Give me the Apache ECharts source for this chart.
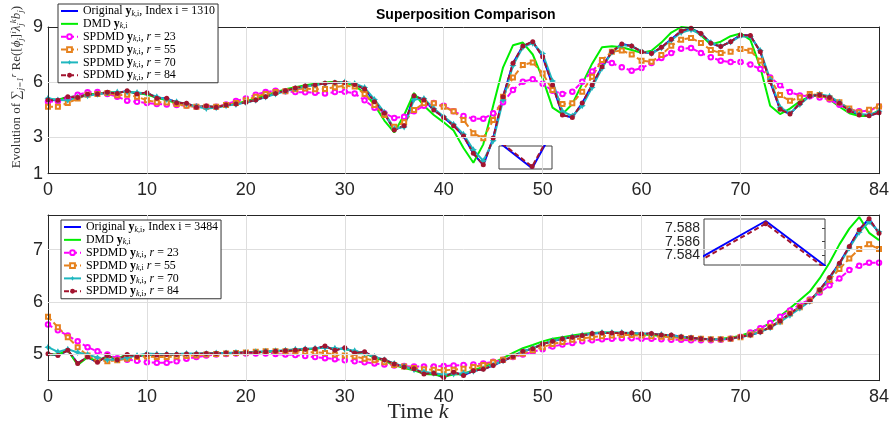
<!DOCTYPE html>
<html><head><meta charset="utf-8">
<script src="https://cdn.jsdelivr.net/npm/echarts@6/dist/echarts.min.js"></script>
<style>html,body{margin:0;padding:0;background:#fff}#c{width:892px;height:426px}</style>
</head><body><div id="c"></div>
<script>
// ---------- tick labels ----------
const xTicks = [0,10,20,30,40,50,60,70,84];
const topYTicks = [1,3,6,9];
const botYTicks = [5,6,7];
const insetYTicks = [7.584,7.586,7.588];

// ---------- top panel (index i = 1310) ----------
const topOriginal = [5.02,5.00,5.20,5.15,5.33,5.35,5.44,5.38,5.53,5.35, 5.42,5.11,5.11,4.87,4.84,4.62,4.69,4.62,4.75,4.80, 4.89,5.02,5.20,5.38,5.53,5.68,5.78,5.85,5.93,5.98, 5.98,5.87,5.62,4.93,4.29,3.38,3.62,5.25,5.02,4.47, 4.07,3.62,3.05,2.10,1.47,2.93,5.20,7.02,7.96,8.20, 7.38,5.84,4.20,4.07,4.85,5.84,6.83,7.65,8.07,7.96, 7.65,7.56,7.89,8.33,8.78,8.93,8.65,8.11,7.93,8.20, 8.56,8.53,7.65,6.02,4.51,4.25,4.84,5.24,5.29,5.16, 4.84,4.44,4.20,4.16,4.33];
const topDMD = [5.05,5.05,5.15,5.25,5.30,5.38,5.42,5.45,5.45,5.42, 5.30,5.15,5.00,4.85,4.75,4.68,4.65,4.66,4.72,4.82, 4.95,5.10,5.28,5.45,5.60,5.72,5.82,5.90,5.97,6.02, 5.98,5.80,5.40,4.75,3.90,3.25,4.20,5.40,4.70,4.20, 3.80,3.35,2.40,1.60,2.60,4.70,6.80,8.00,8.15,7.50, 6.20,4.60,4.25,4.80,5.90,7.00,7.90,7.95,7.90,7.75, 7.60,7.70,8.15,8.70,9.00,8.95,8.55,8.05,8.20,8.50, 8.65,8.30,6.80,4.70,4.25,4.55,4.95,5.20,5.30,5.05, 4.65,4.30,4.15,4.15,4.45];
const topR23 = [4.93,4.95,5.10,5.30,5.44,5.45,5.35,5.20,4.98,4.92, 4.85,4.80,4.78,4.75,4.72,4.65,4.65,4.65,4.78,4.97, 5.10,5.31,5.45,5.53,5.50,5.45,5.44,5.42,5.38,5.45, 5.47,5.38,5.00,4.60,4.30,4.04,4.10,4.40,4.70,4.85, 4.70,4.40,4.15,4.00,4.00,4.29,4.90,5.56,6.02,6.15, 5.90,5.52,5.35,5.47,6.02,6.58,7.16,7.03,6.80,6.62, 6.76,7.03,7.31,7.58,7.82,7.85,7.58,7.35,7.16,7.09, 7.09,6.95,6.71,6.25,5.82,5.45,5.27,5.22,5.16,5.04, 4.76,4.49,4.40,4.44,4.67];
const topR55 = [4.65,4.65,4.86,5.10,5.30,5.35,5.40,5.28,5.30,5.20, 5.00,4.90,4.88,4.80,4.70,4.65,4.65,4.65,4.75,4.85, 5.00,5.20,5.35,5.45,5.50,5.60,5.65,5.60,5.62,5.72, 5.80,5.75,5.35,4.75,4.20,3.56,3.80,4.47,4.84,4.84, 4.65,4.40,3.93,3.20,2.93,3.93,5.20,6.25,6.93,7.07, 6.47,5.56,4.80,4.84,5.47,6.29,7.20,7.65,7.72,7.50, 7.16,7.11,7.47,7.98,8.31,8.40,8.13,7.75,7.58,7.65, 7.80,7.70,7.16,6.16,5.29,4.98,5.16,5.34,5.29,5.11, 4.89,4.56,4.35,4.49,4.67];
const topR70 = [5.11,5.02,5.00,5.18,5.25,5.33,5.40,5.45,5.45,5.43, 5.38,5.20,5.05,4.92,4.80,4.66,4.56,4.60,4.70,4.78, 4.88,5.00,5.18,5.35,5.50,5.65,5.76,5.84,5.92,5.96, 6.00,5.92,5.70,5.05,4.35,3.45,3.55,5.05,5.10,4.55, 4.12,3.70,3.15,2.30,1.70,2.80,5.00,6.90,7.90,8.12, 7.55,6.05,4.40,4.15,4.70,5.70,6.75,7.62,8.02,7.95, 7.68,7.55,7.85,8.28,8.70,8.85,8.62,8.15,7.95,8.18, 8.50,8.48,7.72,6.15,4.62,4.30,4.78,5.22,5.33,5.22, 4.90,4.50,4.25,4.22,4.40];
const topR84 = [5.02,5.00,5.20,5.15,5.33,5.35,5.44,5.38,5.53,5.35, 5.42,5.11,5.11,4.87,4.84,4.62,4.69,4.62,4.75,4.80, 4.89,5.02,5.20,5.38,5.53,5.68,5.78,5.85,5.93,5.98, 5.98,5.87,5.62,4.93,4.29,3.38,3.62,5.25,5.02,4.47, 4.07,3.62,3.05,2.11,1.49,2.95,5.20,7.02,7.96,8.20, 7.38,5.84,4.20,4.07,4.85,5.84,6.83,7.65,8.07,7.96, 7.65,7.56,7.89,8.33,8.78,8.93,8.65,8.11,7.93,8.20, 8.56,8.53,7.65,6.02,4.51,4.25,4.84,5.24,5.29,5.16, 4.84,4.44,4.20,4.16,4.33];

// ---------- bottom panel (index i = 3484) ----------
const botOriginal = [5.015,4.98,5.08,4.83,4.95,4.85,4.98,4.90,5.00,4.96, 5.00,4.99,5.00,5.00,5.01,5.01,5.02,5.02,5.03,5.03, 5.04,5.04,5.05,5.06,5.07,5.08,5.10,5.11,5.16,5.08, 5.13,5.03,5.05,4.94,4.90,4.82,4.76,4.73,4.63,4.64, 4.56,4.66,4.60,4.69,4.72,4.79,4.88,4.96,5.06,5.11, 5.20,5.25,5.30,5.33,5.36,5.40,5.41,5.41,5.41,5.41, 5.39,5.40,5.37,5.37,5.34,5.32,5.30,5.29,5.29,5.30, 5.34,5.37,5.43,5.52,5.64,5.78,5.91,6.02,6.23,6.47, 6.74,7.06,7.38,7.5891,7.31];
const botDMD = [5.00,5.00,5.08,4.80,4.95,4.87,4.97,4.92,5.00,4.97, 5.00,5.00,5.00,5.00,5.01,5.01,5.02,5.02,5.03,5.03, 5.04,5.04,5.05,5.06,5.07,5.08,5.10,5.11,5.14,5.10, 5.11,5.05,5.02,4.94,4.88,4.80,4.74,4.70,4.63,4.62, 4.58,4.62,4.63,4.70,4.76,4.84,4.93,5.03,5.12,5.18, 5.25,5.30,5.33,5.36,5.39,5.41,5.42,5.42,5.41,5.40, 5.38,5.37,5.35,5.34,5.32,5.30,5.29,5.29,5.30,5.32, 5.36,5.42,5.50,5.60,5.73,5.88,6.04,6.20,6.45,6.75, 7.10,7.40,7.62,7.32,7.18];
const botR23 = [5.57,5.46,5.36,5.25,5.14,5.06,5.00,4.93,4.90,4.88, 4.85,4.84,4.84,4.87,4.92,4.95,4.98,5.00,5.01,5.02, 5.02,5.02,5.02,5.01,5.00,4.99,4.97,4.95,4.93,4.91, 4.89,4.87,4.85,4.83,4.81,4.79,4.78,4.77,4.77,4.77, 4.78,4.79,4.80,4.81,4.83,4.86,4.90,4.95,5.00,5.05, 5.10,5.15,5.19,5.22,5.25,5.27,5.29,5.30,5.31,5.31, 5.30,5.30,5.29,5.28,5.28,5.27,5.27,5.27,5.28,5.30, 5.34,5.42,5.50,5.60,5.72,5.84,5.95,6.05,6.18,6.32, 6.45,6.61,6.69,6.75,6.75];
const botR55 = [5.72,5.52,5.33,5.14,4.98,4.90,4.87,4.89,4.92,4.95, 4.96,4.95,4.95,4.96,4.97,4.98,5.00,5.01,5.02,5.03, 5.04,5.05,5.06,5.06,5.06,5.06,5.05,5.04,5.03,5.00, 4.98,4.96,4.92,4.89,4.85,4.80,4.77,4.74,4.72,4.71, 4.70,4.71,4.73,4.76,4.80,4.85,4.90,4.96,5.02,5.08, 5.14,5.20,5.24,5.28,5.31,5.33,5.35,5.36,5.37,5.37, 5.36,5.35,5.34,5.33,5.32,5.31,5.30,5.29,5.29,5.30, 5.33,5.38,5.45,5.53,5.63,5.78,5.90,6.03,6.22,6.42, 6.63,6.83,7.01,7.10,7.01];
const botR70 = [5.14,5.05,5.10,5.04,5.00,4.94,4.90,4.90,4.94,4.98, 5.02,5.01,5.01,5.01,5.02,5.02,5.02,5.03,5.03,5.04, 5.04,5.05,5.06,5.07,5.08,5.10,5.11,5.12,5.13,5.12, 5.10,5.07,5.02,4.96,4.90,4.83,4.77,4.71,4.67,4.64, 4.62,4.63,4.64,4.68,4.73,4.80,4.88,4.97,5.06,5.12, 5.20,5.26,5.30,5.34,5.37,5.40,5.42,5.42,5.42,5.41, 5.40,5.39,5.38,5.36,5.34,5.32,5.30,5.29,5.29,5.30, 5.33,5.37,5.43,5.51,5.62,5.75,5.88,6.01,6.21,6.45, 6.72,7.03,7.33,7.53,7.34];
const botR84 = [5.015,4.98,5.08,4.83,4.95,4.85,4.98,4.90,5.00,4.96, 5.00,4.99,5.00,5.00,5.01,5.01,5.02,5.02,5.03,5.03, 5.04,5.04,5.05,5.06,5.07,5.08,5.10,5.11,5.16,5.08, 5.13,5.03,5.05,4.94,4.90,4.82,4.76,4.73,4.63,4.64, 4.56,4.66,4.60,4.69,4.72,4.79,4.88,4.96,5.06,5.11, 5.20,5.25,5.30,5.33,5.36,5.40,5.41,5.41,5.41,5.41, 5.39,5.40,5.37,5.37,5.34,5.32,5.30,5.29,5.29,5.30, 5.34,5.37,5.43,5.52,5.64,5.78,5.91,6.02,6.23,6.47, 6.74,7.06,7.38,7.5887,7.31];

// ---------- styles ----------
const AX = '#262626', GRIDC = '#dedede';
const SANS = 'Liberation Sans, Arial, Helvetica, sans-serif';
const SERIF = 'Liberation Serif, Times New Roman, serif';
const STAR = 'path://M0,-10L3.6,-3.6L10,0L3.6,3.6L0,10L-3.6,3.6L-10,0L-3.6,-3.6Z';
const ST = {
  orig: {symbol:'none', lineStyle:{color:'#0000ff', width:2}, itemStyle:{color:'#0000ff'}},
  dmd:  {symbol:'none', lineStyle:{color:'#00ee00', width:2}, itemStyle:{color:'#00ee00'}},
  r23:  {symbol:'emptyCircle', symbolSize:4.5, lineStyle:{color:'#ff00ff', width:2, type:[5,3]}, itemStyle:{color:'#ff00ff', borderColor:'#ff00ff', borderWidth:1.8}},
  r55:  {symbol:'emptyRect', symbolSize:4, lineStyle:{color:'#e6821e', width:2, type:[5,3]}, itemStyle:{color:'#e6821e', borderColor:'#e6821e', borderWidth:1.8}},
  r70:  {symbol:STAR, symbolSize:7, lineStyle:{color:'#1fb7bf', width:2}, itemStyle:{color:'#1fb7bf'}},
  r84:  {symbol:'circle', symbolSize:5, lineStyle:{color:'#a2142f', width:2, type:[5,3]}, itemStyle:{color:'#a2142f'}}
};
function ser(name, arr, st, xi, yi, z) {
  return Object.assign({type:'line', name, xAxisIndex:xi, yAxisIndex:yi, z:z||2,
    data: arr.map((v,i)=>[i,v]), showSymbol: st.symbol !== 'none', animation:false, silent:true}, JSON.parse(JSON.stringify(st)));
}
// gridlines drawn as markLines of an empty helper series
function gridSeries(xi, yi, xs, ys, z, color) {
  return {type:'line', name:'grid'+xi, xAxisIndex:xi, yAxisIndex:yi, data:[], z:z||1, silent:true, animation:false,
    markLine:{silent:true, symbol:'none', animation:false, label:{show:false},
      lineStyle:{color:color||GRIDC, width:1, type:'solid'},
      emphasis:{disabled:true},
      data: xs.map(v=>({xAxis:v})).concat(ys.map(v=>({yAxis:v})))}};
}

// legend labels (rich text)
const yk = '{b|y}{s|k,}{ss|i}';
const L = {
  tO: '{t|Original }'+yk+'{t|, Index i = 1310}',
  bO: '{t|Original }'+yk+'{t|, Index i = 3484}',
  D: '{t|DMD }'+yk,
  a: '{t|SPDMD }'+yk+'{t|, }{i|r}{t| = 23}',
  b: '{t|SPDMD }'+yk+'{t|, }{i|r}{t| = 55}',
  bb: '{t|SPDMD }'+yk+'{t| }{i|r}{t| = 55}',
  c: '{t|SPDMD }'+yk+'{t|, }{i|r}{t| = 70}',
  d: '{t|SPDMD }'+yk+'{t|, }{i|r}{t| = 84}'
};
const nameMap = {
  'tO':L.tO,'tD':L.D,'t23':L.a,'t55':L.b,'t70':L.c,'t84':L.d,
  'bO':L.bO,'bD':L.D,'b23':L.a,'b55':L.bb,'b70':L.c,'b84':L.d
};
const LF = 11.9;
const richLeg = {
  t:{fontFamily:SERIF, fontSize:LF, color:'#000', lineHeight:13},
  i:{fontFamily:SERIF, fontSize:LF, fontStyle:'italic', color:'#000', lineHeight:13},
  b:{fontFamily:SERIF, fontSize:LF, fontWeight:'bold', color:'#000', lineHeight:13},
  s:{fontFamily:SERIF, fontSize:8, fontStyle:'italic', color:'#000', lineHeight:13, verticalAlign:'bottom'},
  ss:{fontFamily:SERIF, fontSize:8, color:'#000', lineHeight:13, verticalAlign:'bottom'}
};
function legend(names, left, top) {
  return {
    show:true, orient:'vertical', left, top, itemWidth:17, itemHeight:6, itemGap:0.35,
    padding:[1,3,1,2], backgroundColor:'#fff', borderColor:'#333', borderWidth:1, borderRadius:0,
    selectedMode:false, z:10,
    data: names.map((n,i)=> i<2 ? {name:n, itemStyle:{opacity:0}} : {name:n}),
    formatter: n => nameMap[n],
    textStyle:{rich:richLeg}
  };
}

function xBottom(g) {
  return {type:'value', gridIndex:g, min:0, max:84, position:'bottom', z:4,
    axisLine:{show:true, onZero:false, lineStyle:{color:AX, width:1}},
    axisTick:{show:true, inside:true, length:5, customValues:xTicks, lineStyle:{color:AX}},
    axisLabel:{show:true, customValues:xTicks, fontSize:18, color:AX, fontFamily:SANS, margin:7, showMinLabel:true, showMaxLabel:true},
    splitLine:{show:false}};
}
function xTop(g) {
  return {type:'value', gridIndex:g, min:0, max:84, position:'top', z:4,
    axisLine:{show:true, onZero:false, lineStyle:{color:AX, width:1}},
    axisTick:{show:true, inside:true, length:5, customValues:xTicks, lineStyle:{color:AX}},
    axisLabel:{show:false}, splitLine:{show:false}};
}
function yLeft(g, mn, mx, ticks) {
  return {type:'value', gridIndex:g, min:mn, max:mx, position:'left', z:4,
    axisLine:{show:true, onZero:false, lineStyle:{color:AX, width:1}},
    axisTick:{show:true, inside:true, length:5, customValues:ticks, lineStyle:{color:AX}},
    axisLabel:{show:true, customValues:ticks, fontSize:18, color:AX, fontFamily:SANS, margin:5, showMinLabel:true, showMaxLabel:true},
    splitLine:{show:false}};
}
function yRight(g, mn, mx, ticks) {
  return {type:'value', gridIndex:g, min:mn, max:mx, position:'right', z:4,
    axisLine:{show:true, onZero:false, lineStyle:{color:AX, width:1}},
    axisTick:{show:true, inside:true, length:5, customValues:ticks, lineStyle:{color:AX}},
    axisLabel:{show:false}, splitLine:{show:false}};
}
// inset y label axis (one per label so none is hidden by overlap handling)
function insetLabelAxis(vals) {
  return {type:'value', gridIndex:3, min:7.5825, max:7.5894, position:'left', offset:0, z:6,
    axisLine:{show:false}, axisTick:{show:false},
    axisLabel:{show:true, customValues:vals, hideOverlap:false, showMinLabel:true, showMaxLabel:true,
      fontSize:14, color:AX, fontFamily:SANS, margin:4, formatter:v=>Number(v).toFixed(3)},
    splitLine:{show:false}};
}

const chart = echarts.init(document.getElementById('c'), null, {renderer:'canvas'});
const option = {
  animation:false,
  backgroundColor:'#fff',
  title:{text:'Superposition Comparison', left:376, top:8, padding:0,
    textStyle:{fontFamily:SANS, fontSize:14, fontWeight:'bold', color:'#000'}},
  grid:[
    {left:48, top:27, width:831, height:146.7, outerBoundsMode:'none'},
    {left:48, top:215, width:831, height:165.7, outerBoundsMode:'none'},
    {left:499, top:146, width:53, height:23, show:true, backgroundColor:'#fff', borderColor:'#404040', borderWidth:1, z:5, outerBoundsMode:'none'},
    {left:704, top:219, width:121, height:46, show:true, backgroundColor:'#fff', borderColor:'#404040', borderWidth:1, z:5, outerBoundsMode:'none'}
  ],
  xAxis:[
    xBottom(0), xTop(0), xBottom(1), xTop(1),
    {type:'value', gridIndex:2, min:43.5, max:44.3, show:false},
    {type:'value', gridIndex:3, min:82.975, max:83.024, show:false}
  ],
  yAxis:[
    yLeft(0,1,9,topYTicks), yRight(0,1,9,topYTicks), yLeft(1,4.5,7.66,botYTicks), yRight(1,4.5,7.66,botYTicks),
    {type:'value', gridIndex:2, min:1.46, max:1.74, show:false},
    insetLabelAxis([insetYTicks[0], insetYTicks[2]]),
    {type:'value', gridIndex:3, min:7.5825, max:7.5894, position:'right', z:6,
      axisLine:{show:false},
      axisTick:{show:true, inside:true, length:3, customValues:insetYTicks, lineStyle:{color:'#404040'}},
      axisLabel:{show:false}, splitLine:{show:false}},
    insetLabelAxis([insetYTicks[1]])
  ],
  legend:[
    legend(['tO','tD','t23','t55','t70','t84'], 58, 4),
    legend(['bO','bD','b23','b55','b70','b84'], 61, 220)
  ],
  series:[
    gridSeries(0, 0, xTicks.slice(1,-1), topYTicks.slice(1,-1)),
    gridSeries(2, 2, xTicks.slice(1,-1), botYTicks),
    gridSeries(5, 5, [], insetYTicks, 6, '#d4d4d4'),
    ser('tO', topOriginal, ST.orig, 0, 0), ser('tD', topDMD, ST.dmd, 0, 0),
    ser('t23', topR23, ST.r23, 0, 0), ser('t55', topR55, ST.r55, 0, 0),
    ser('t70', topR70, ST.r70, 0, 0), ser('t84', topR84, ST.r84, 0, 0),
    ser('bO', botOriginal, ST.orig, 2, 2), ser('bD', botDMD, ST.dmd, 2, 2),
    ser('b23', botR23, ST.r23, 2, 2), ser('b55', botR55, ST.r55, 2, 2),
    ser('b70', botR70, ST.r70, 2, 2), ser('b84', botR84, ST.r84, 2, 2),
    ser('tOi', topOriginal, ST.orig, 4, 4, 7), ser('t84i', topR84, ST.r84, 4, 4, 8),
    ser('bOi', botOriginal, ST.orig, 5, 5, 7), ser('b84i', botR84, ST.r84, 5, 5, 8)
  ],
  graphic:[
    {type:'text', x:17, y:87, rotation:Math.PI/2, z:20,
      style:{text:'{t|Evolution of }{t|∑}{sb|j=1}{sp|r}{t| Re([}{i|ϕ}{sb|j}{t|]}{sp|i}{i|λ}{sb|j}{sp|k}{i|b}{sb|j}{t|)}',
        align:'center', verticalAlign:'middle', fill:AX,
        rich:{
          t:{fontFamily:SERIF, fontSize:13, fill:'#333', lineHeight:16},
          i:{fontFamily:SERIF, fontSize:13, fontStyle:'italic', fill:'#333', lineHeight:16},
          sb:{fontFamily:SERIF, fontSize:9, fontStyle:'italic', fill:'#333', lineHeight:16, verticalAlign:'bottom'},
          sp:{fontFamily:SERIF, fontSize:9, fontStyle:'italic', fill:'#333', lineHeight:16, verticalAlign:'top'}
        }}},
    {type:'text', x:418, y:412, z:20,
      style:{text:'{t|Time }{i|k}', align:'center', verticalAlign:'middle',
        rich:{t:{fontFamily:SERIF, fontSize:22, fill:'#262626'}, i:{fontFamily:SERIF, fontSize:22, fontStyle:'italic', fill:'#262626'}}}}
  ]
};
chart.setOption(option);
</script></body></html>
